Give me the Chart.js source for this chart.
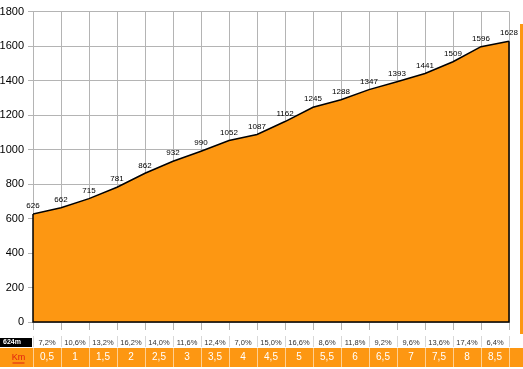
<!DOCTYPE html>
<html>
<head>
<meta charset="utf-8">
<script src="https://cdn.jsdelivr.net/npm/chart.js@4/dist/chart.umd.min.js"></script>
<style>
html,body{margin:0;padding:0;background:#fff;}
#wrap{position:relative;width:523px;height:369px;}
#strip{position:absolute;left:520px;top:24px;width:3px;height:310px;background:#FD9712;}
</style>
</head>
<body>
<div id="wrap"><canvas id="c" width="523" height="369"></canvas><div id="strip"></div></div>
<script>
const kmPoints = [0,0.5,1,1.5,2,2.5,3,3.5,4,4.5,5,5.5,6,6.5,7,7.5,8,8.5];
const elevations = [626,662,715,781,862,932,990,1052,1087,1162,1245,1288,1347,1393,1441,1509,1596,1628];
const gradients = ["7,2%","10,6%","13,2%","16,2%","14,0%","11,6%","12,4%","7,0%","15,0%","16,6%","8,6%","11,8%","9,2%","9,6%","13,6%","17,4%","6,4%"];
const kmLabels = ["0,5","1","1,5","2","2,5","3","3,5","4","4,5","5","5,5","6","6,5","7","7,5","8","8,5"];
const startLabel = "624m";
const unitLabel = "Km";

const ORANGE = '#FD9712';

const overlay = {
  id: 'overlay',
  afterDatasetsDraw(chart) {
    const ctx = chart.ctx;
    const x = chart.scales.x, y = chart.scales.y;
    const meta = chart.getDatasetMeta(0);
    const pts = meta.data;
    const base = y.getPixelForValue(0);
    ctx.save();
    ctx.strokeStyle = '#000';
    ctx.lineWidth = 1.5;
    ctx.beginPath();
    ctx.moveTo(pts[0].x, pts[0].y);
    ctx.lineTo(pts[0].x, base);
    ctx.lineTo(pts[pts.length-1].x, base);
    ctx.lineTo(pts[pts.length-1].x, pts[pts.length-1].y);
    ctx.stroke();
    ctx.fillStyle = '#000';
    ctx.font = '8px Arial, "Liberation Sans"';
    ctx.textAlign = 'center';
    ctx.textBaseline = 'bottom';
    pts.forEach((p, i) => {
      ctx.fillText(String(elevations[i]), p.x, p.y - 4);
    });
    const r1Top = 336, r1Bot = 347, r2Top = 348, r2Bot = 367;
    ctx.fillStyle = ORANGE;
    ctx.fillRect(0, r2Top, 523, r2Bot - r2Top);
    ctx.fillStyle = '#000';
    ctx.fillRect(0, r1Top + 2, x.getPixelForValue(0) - 1, r1Bot - r1Top - 2);
    ctx.fillStyle = '#fff';
    ctx.font = 'bold 7px Arial, "Liberation Sans"';
    ctx.textAlign = 'left';
    ctx.textBaseline = 'middle';
    ctx.fillText(startLabel, 3, (r1Top + r1Bot) / 2 + 1);
    ctx.fillStyle = '#E02010';
    ctx.font = '9px Arial, "Liberation Sans"';
    ctx.textAlign = 'center';
    const kmX = x.getPixelForValue(0) / 2 + 2;
    ctx.fillText(unitLabel, kmX, (r2Top + r2Bot) / 2);
    ctx.fillRect(kmX - 6, (r2Top + r2Bot) / 2 + 5, 12, 1);
    for (let i = 0; i < kmPoints.length; i++) {
      const px = Math.round(x.getPixelForValue(kmPoints[i])) + 0.5;
      ctx.strokeStyle = '#d8d8d8';
      ctx.lineWidth = 1;
      ctx.beginPath(); ctx.moveTo(px, r1Top); ctx.lineTo(px, r1Bot); ctx.stroke();
      ctx.strokeStyle = 'rgba(255,255,255,0.55)';
      ctx.beginPath(); ctx.moveTo(px, r2Top); ctx.lineTo(px, r2Bot); ctx.stroke();
    }
    for (let i = 0; i < gradients.length; i++) {
      const cx = (x.getPixelForValue(kmPoints[i]) + x.getPixelForValue(kmPoints[i+1])) / 2;
      ctx.fillStyle = '#333';
      ctx.font = '7.5px Arial, "Liberation Sans"';
      ctx.fillText(gradients[i], cx, (r1Top + r1Bot) / 2 + 1);
      ctx.fillStyle = '#fff';
      ctx.font = '10px Arial, "Liberation Sans"';
      ctx.fillText(kmLabels[i], cx, (r2Top + r2Bot) / 2);
    }
    ctx.restore();
  }
};

new Chart(document.getElementById('c'), {
  type: 'line',
  data: {
    datasets: [{
      data: kmPoints.map((k, i) => ({x: k, y: elevations[i]})),
      borderColor: '#000',
      borderWidth: 1.5,
      backgroundColor: ORANGE,
      fill: 'origin',
      pointRadius: 0,
      tension: 0
    }]
  },
  options: {
    responsive: false,
    animation: false,
    layout: {padding: {top: 11.5, right: 14, left: 0, bottom: 0}},
    plugins: {legend: {display: false}, tooltip: {enabled: false}},
    scales: {
      x: {
        type: 'linear', min: 0, max: 8.5,
        ticks: {display: false, stepSize: 0.5},
        grid: {color: '#b4b4b4', lineWidth: 1, tickLength: 8, drawTicks: true},
        border: {display: false},
        afterFit(s) { s.height = 47; }
      },
      y: {
        min: 0, max: 1800,
        ticks: {stepSize: 200, color: '#000', font: {family: 'Arial, "Liberation Sans"', size: 11}, padding: 4,
                callback: (v) => String(v)},
        grid: {color: '#b4b4b4', lineWidth: 1, tickLength: 5},
        border: {display: false},
        afterFit(s) { s.width = 33; }
      }
    }
  },
  plugins: [overlay]
});
</script>
</body>
</html>
